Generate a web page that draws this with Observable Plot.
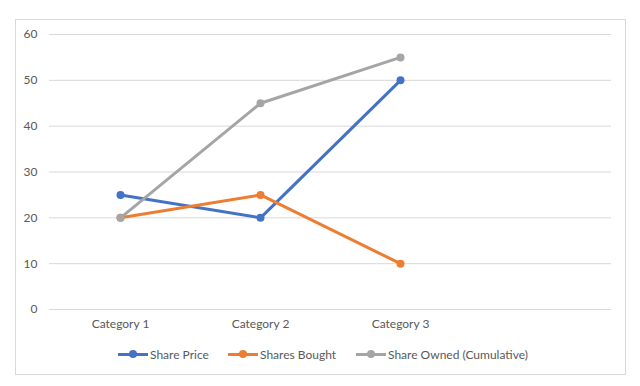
<!DOCTYPE html>
<html>
<head>
<meta charset="utf-8">
<script src="https://cdn.jsdelivr.net/npm/d3@7"></script>
<script src="https://cdn.jsdelivr.net/npm/@observablehq/plot@0.6"></script>
<style>
  html, body { margin: 0; padding: 0; background: #fff; }
  body { width: 640px; height: 386px; position: relative; overflow: hidden; font-family: Lato, "Liberation Sans", sans-serif; }
  #frame { position: absolute; left: 15px; top: 19px; width: 609px; height: 354px; border: 1px solid #d9d9d9; background: #fff; }
  #legend { position: absolute; left: 0; top: 324px; width: 609px; height: 20px; }
  .item { position: absolute; top: 0; display: flex; align-items: center; font-size: 12px; color: #595959; white-space: nowrap; height: 20px; }
  .sw { position: relative; width: 30px; height: 20px; margin-right: 2px; }
  .sw .ln { position: absolute; left: 0; top: 8.5px; width: 30px; height: 3px; }
  .sw .dt { position: absolute; left: 11px; top: 6px; width: 8px; height: 8px; border-radius: 50%; }
</style>
</head>
<body>
<div id="frame">
  <div id="plot"></div>
  <div id="legend"></div>
</div>
<script>
const categories = ["Category 1", "Category 2", "Category 3"];
const sharePrice = [25, 20, 50];
const sharesBought = [20, 25, 10];
const shareOwned = [20, 45, 55];
const seriesNames = ["Share Price", "Shares Bought", "Share Owned (Cumulative)"];
const seriesColors = ["#4472C4", "#ED7D31", "#A5A5A5"];
const yTicks = [0, 10, 20, 30, 40, 50, 60];

const seriesValues = [sharePrice, sharesBought, shareOwned];
const rows = [];
seriesNames.forEach((s, i) => categories.forEach((c, j) => rows.push({series: s, category: c, value: seriesValues[i][j]})));

const chart = Plot.plot({
  width: 609,
  height: 318,
  marginLeft: 33,
  marginRight: 14,
  marginTop: 14,
  marginBottom: 29,
  style: {fontFamily: "Lato, 'Liberation Sans', sans-serif", fontSize: "12px", color: "#595959", background: "transparent"},
  x: {type: "point", domain: [...categories, " "], padding: 0.5, label: null},
  y: {domain: [0, 60], label: null},
  color: {domain: seriesNames, range: seriesColors},
  marks: [
    Plot.gridY(yTicks, {stroke: "#d9d9d9", strokeOpacity: 1, strokeWidth: 1}),
    Plot.axisY(yTicks, {tickSize: 0, tickPadding: 12, label: null, fill: "#595959", fontSize: 12}),
    Plot.axisX(categories, {tickSize: 0, tickPadding: 10, label: null, fill: "#595959", fontSize: 12}),
    Plot.line(rows, {x: "category", y: "value", z: "series", stroke: "series", strokeWidth: 3, strokeLinejoin: "round", strokeLinecap: "round"}),
    Plot.dot(rows, {x: "category", y: "value", fill: "series", r: 4})
  ]
});
document.getElementById("plot").appendChild(chart);

const legend = document.getElementById("legend");
const lefts = [102, 212, 340];
seriesNames.forEach((s, i) => {
  const it = document.createElement("div");
  it.className = "item";
  it.style.left = lefts[i] + "px";
  it.innerHTML = `<span class="sw"><span class="ln" style="background:${seriesColors[i]}"></span><span class="dt" style="background:${seriesColors[i]}"></span></span><span>${s}</span>`;
  legend.appendChild(it);
});
</script>
</body>
</html>
